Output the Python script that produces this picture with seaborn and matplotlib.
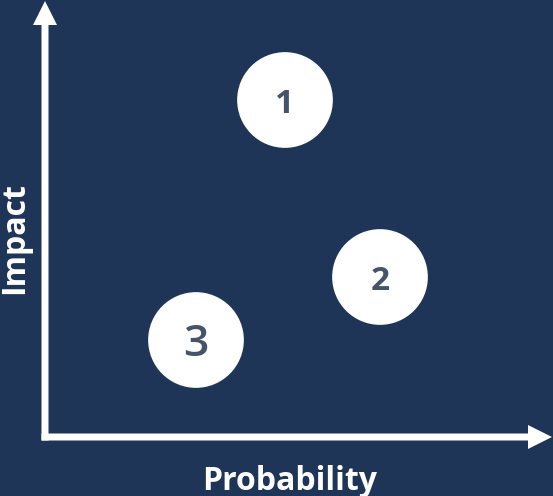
import pandas as pd
import matplotlib.pyplot as plt
import seaborn as sns

# risk matrix data
risk_ids = ['1', '2', '3']
probability = [4.8, 6.7, 3.02]
impact = [6.74, 3.2, 1.94]
label_sizes = [24, 24, 32]
label_weights = ['bold', 'bold', 'semibold']

bg = '#1f3558'
num_color = '#44546a'

df = pd.DataFrame({'risk': risk_ids, 'probability': probability, 'impact': impact})

sns.set_style('white')
plt.rcParams['font.family'] = ['Open Sans', 'DejaVu Sans']

fig = plt.figure(figsize=(5.53, 4.96), dpi=100, facecolor=bg)
ax = fig.add_axes([0, 0, 1, 1])
ax.set_facecolor(bg)
ax.set_xlim(-0.9, 10.16)
ax.set_ylim(-1.18, 8.74)
ax.axis('off')

# axes arrows
ax.arrow(0, -0.07, 0, 8.79, width=0.14, head_width=0.48, head_length=0.48,
         length_includes_head=True, color='white', lw=0)
ax.arrow(-0.07, 0, 10.21, 0, width=0.14, head_width=0.48, head_length=0.48,
         length_includes_head=True, color='white', lw=0)

# circles
sns.scatterplot(data=df, x='probability', y='impact', s=4750, color='white',
                edgecolor='none', ax=ax, legend=False, zorder=3)

for r, x, y, fs, fw in zip(risk_ids, probability, impact, label_sizes, label_weights):
    ax.text(x, y - 0.1, r, ha='center', va='center', fontsize=fs,
            fontweight=fw, color=num_color, zorder=4)

ax.text(4.9, -0.88, 'Probability', ha='center', va='center', fontsize=23,
        fontweight='bold', color='white')
ax.text(-0.6, 3.98, 'Impact', ha='center', va='center', fontsize=23,
        fontweight='bold', color='white', rotation=90)

plt.savefig('out.png', dpi=100, facecolor=bg)
